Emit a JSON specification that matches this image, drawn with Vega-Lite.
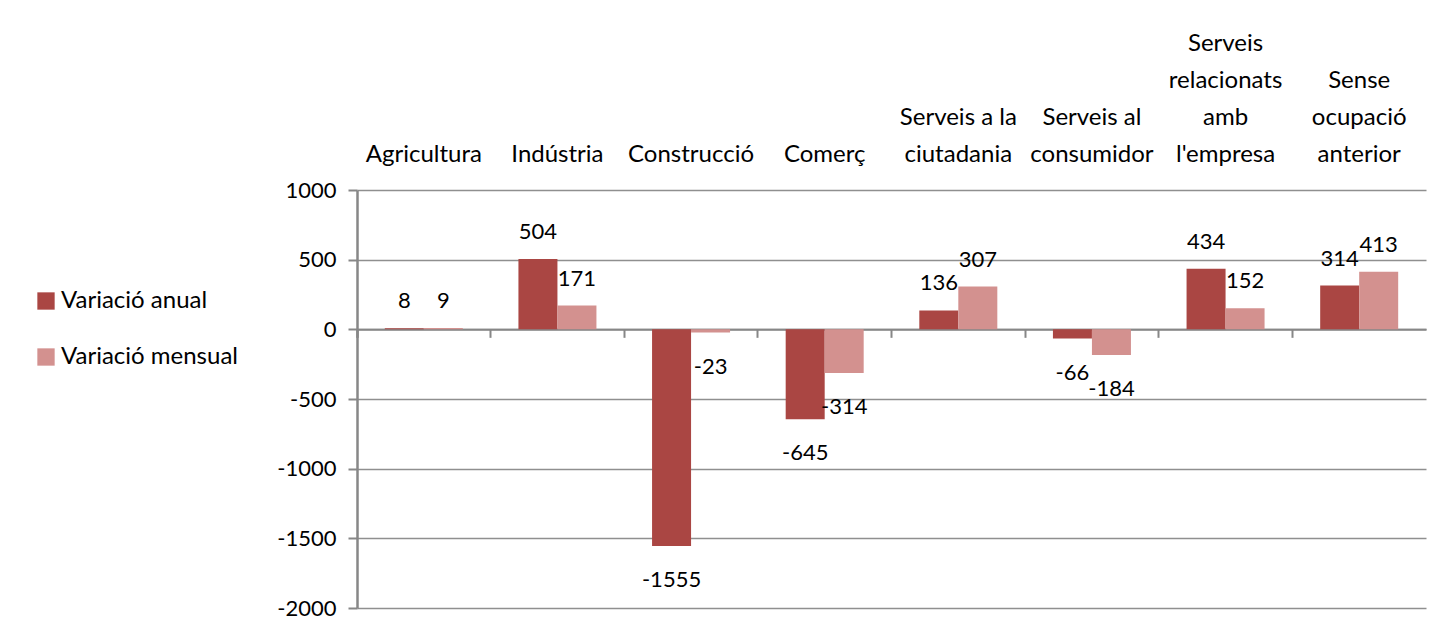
{
  "$schema": "https://vega.github.io/schema/vega-lite/v6.json",
  "width": 1069,
  "height": 418,
  "autosize": {"type": "none"},
  "padding": {"left": 357, "top": 190, "right": 7, "bottom": 27},
  "background": "white",
  "config": {
    "font": "Lato",
    "view": {"stroke": null},
    "axis": {"labelFont": "Lato", "labelColor": "#000000"},
    "legend": {"labelFont": "Lato"}
  },
  "data": {
    "values": [
      {"sector": "Agricultura", "serie": "Variació anual", "valor": 8},
      {"sector": "Agricultura", "serie": "Variació mensual", "valor": 9},
      {"sector": "Indústria", "serie": "Variació anual", "valor": 504},
      {"sector": "Indústria", "serie": "Variació mensual", "valor": 171},
      {"sector": "Construcció", "serie": "Variació anual", "valor": -1555},
      {"sector": "Construcció", "serie": "Variació mensual", "valor": -23},
      {"sector": "Comerç", "serie": "Variació anual", "valor": -645},
      {"sector": "Comerç", "serie": "Variació mensual", "valor": -314},
      {"sector": "Serveis a la ciutadania", "serie": "Variació anual", "valor": 136},
      {"sector": "Serveis a la ciutadania", "serie": "Variació mensual", "valor": 307},
      {"sector": "Serveis al consumidor", "serie": "Variació anual", "valor": -66},
      {"sector": "Serveis al consumidor", "serie": "Variació mensual", "valor": -184},
      {"sector": "Serveis relacionats amb l'empresa", "serie": "Variació anual", "valor": 434},
      {"sector": "Serveis relacionats amb l'empresa", "serie": "Variació mensual", "valor": 152},
      {"sector": "Sense ocupació anterior", "serie": "Variació anual", "valor": 314},
      {"sector": "Sense ocupació anterior", "serie": "Variació mensual", "valor": 413}
    ]
  },
  "resolve": {"axis": {"x": "independent"}},
  "layer": [
    {
      "mark": {"type": "bar"},
      "encoding": {
        "x": {
          "field": "sector",
          "type": "nominal",
          "sort": null,
          "scale": {"paddingInner": 0, "paddingOuter": 0},
          "axis": {
            "orient": "top",
            "title": null,
            "domain": false,
            "ticks": false,
            "labelAngle": 0,
            "labelFontSize": 24,
            "labelLineHeight": 37,
            "labelPadding": {
              "condition": [
                {"test": "datum.value == \"Serveis relacionats amb l'empresa\"", "value": 135},
                {"test": "datum.value == 'Sense ocupació anterior'", "value": 98},
                {"test": "datum.value == 'Serveis a la ciutadania' || datum.value == 'Serveis al consumidor'", "value": 61}
              ],
              "value": 24
            },
            "labelLimit": 0,
            "labelExpr": "datum.value == 'Serveis a la ciutadania' ? ['Serveis a la', 'ciutadania'] : datum.value == 'Serveis al consumidor' ? ['Serveis al', 'consumidor'] : datum.value == \"Serveis relacionats amb l'empresa\" ? ['Serveis', 'relacionats', 'amb', \"l'empresa\"] : datum.value == 'Sense ocupació anterior' ? ['Sense', 'ocupació', 'anterior'] : datum.value"
          }
        },
        "xOffset": {
          "field": "serie",
          "type": "nominal",
          "scale": {"paddingInner": 0, "paddingOuter": 0.713}
        },
        "y": {
          "field": "valor",
          "type": "quantitative",
          "scale": {"domain": [-2000, 1000], "nice": false},
          "axis": {
            "title": null,
            "values": [-2000, -1500, -1000, -500, 0, 500, 1000],
            "labelExpr": "toString(datum.value)",
            "labelFontSize": 22,
            "labelPadding": 12,
            "tickSize": 9,
            "tickColor": "#878787",
            "tickWidth": 2,
            "domainColor": "#878787",
            "domainWidth": 2.5,
            "gridColor": "#8f8f8f",
            "gridWidth": 1.6,
            "gridOpacity": 1
          }
        },
        "color": {
          "field": "serie",
          "type": "nominal",
          "scale": {"domain": ["Variació anual", "Variació mensual"], "range": ["#AA4643", "#D3918F"]},
          "legend": {
            "title": null,
            "orient": "none",
            "legendX": -323,
            "legendY": 99,
            "padding": 0,
            "symbolType": "square",
            "symbolSize": 300,
            "symbolStrokeWidth": 0,
            "labelFontSize": 24,
            "labelOffset": 3,
            "labelLimit": 0,
            "rowPadding": 32,
            "labelColor": "#000000"
          }
        }
      }
    },
    {
      "transform": [{"filter": "datum.valor >= 0"}],
      "mark": {"type": "text", "fontSize": 22, "dy": -27, "color": "#000000"},
      "encoding": {
        "x": {"field": "sector", "type": "nominal", "sort": null, "axis": null},
        "xOffset": {"field": "serie", "type": "nominal"},
        "y": {"field": "valor", "type": "quantitative", "title": null},
        "text": {"field": "valor", "type": "nominal"}
      }
    },
    {
      "transform": [{"filter": "datum.valor < 0"}],
      "mark": {"type": "text", "fontSize": 22, "dy": 34, "color": "#000000"},
      "encoding": {
        "x": {
          "field": "sector",
          "type": "nominal",
          "sort": null,
          "axis": {
            "orient": "bottom",
            "offset": -278.67,
            "title": null,
            "labels": false,
            "grid": false,
            "domainColor": "#878787",
            "domainWidth": 2,
            "tickColor": "#878787",
            "tickWidth": 2,
            "tickSize": 8,
            "bandPosition": 0,
            "tickExtra": true
          }
        },
        "xOffset": {"field": "serie", "type": "nominal"},
        "y": {"field": "valor", "type": "quantitative", "title": null},
        "text": {"field": "valor", "type": "nominal"}
      }
    }
  ]
}
